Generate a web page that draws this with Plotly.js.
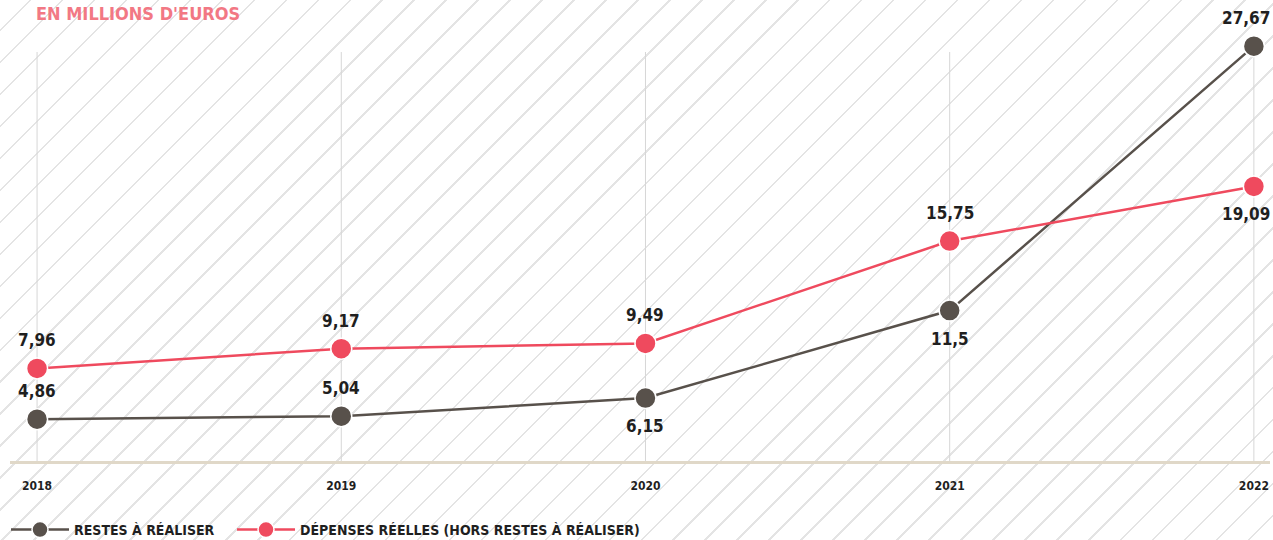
<!DOCTYPE html>
<html>
<head>
<meta charset="utf-8">
<script src="https://cdn.plot.ly/plotly-3.0.1.min.js"></script>
<style>
  html, body { margin: 0; padding: 0; }
  body {
    width: 1273px; height: 540px; overflow: hidden;
    background: repeating-linear-gradient(135deg, #ffffff 0px, #ffffff 20.8px, #e4e4e4 20.8px, #e4e4e4 22.6px);
  }
  #chart { width: 1273px; height: 540px; }
</style>
</head>
<body>
<div id="chart"></div>
<script>
const years = [2018, 2019, 2020, 2021, 2022];
const tickLabels = ["2018", "2019", "2020", "2021", "2022"];
const restesValues = [4.86, 5.04, 6.15, 11.5, 27.67];
const depensesValues = [7.96, 9.17, 9.49, 15.75, 19.09];
const seriesNames = ["RESTES À RÉALISER", "DÉPENSES RÉELLES (HORS RESTES À RÉALISER)"];
const titleText = "EN MILLIONS D'EUROS";

const restesLabelAbove = [true, true, false, false, true];
const depensesLabelAbove = [true, true, true, true, false];

const fmt = v => String(v).replace(".", ",");
const FONT = "DejaVu Sans Condensed, DejaVu Sans, sans-serif";
const GRAY = "#58514b", RED = "#ef4a5e";

const restes = {
  x: years, y: restesValues, name: seriesNames[0],
  type: "scatter", mode: "lines+markers", legend: "legend",
  line: { color: GRAY, width: 2.5 },
  marker: { color: GRAY, size: 21, line: { color: "#ffffff", width: 1.5 } },
  cliponaxis: false, hoverinfo: "skip"
};
const depenses = {
  x: years, y: depensesValues, name: seriesNames[1],
  type: "scatter", mode: "lines+markers", legend: "legend2",
  line: { color: RED, width: 2.5 },
  marker: { color: RED, size: 21, line: { color: "#ffffff", width: 1.5 } },
  cliponaxis: false, hoverinfo: "skip"
};

function labels(vals, above) {
  return vals.map((v, i) => {
    const last = i === vals.length - 1;
    return {
      x: years[i], y: v, xref: "x", yref: "y",
      text: fmt(v), showarrow: false,
      xanchor: last ? "right" : "center", xshift: last ? 18 : 0,
      yanchor: "middle", yshift: above[i] ? 28 : -28,
      font: { family: FONT, size: 17, color: "#1f1f1f", weight: 700 }
    };
  });
}

const yMin = 2.3, yMax = 29.27, gridTop = 0.9274;
const gridShapes = years.map(yr => ({
  type: "line", xref: "x", yref: "paper",
  x0: yr, x1: yr, y0: 0, y1: gridTop,
  line: { color: "#d6d6d6", width: 1 }, layer: "below"
}));

const legendBase = {
  orientation: "h", xanchor: "left", xref: "container",
  y: 10 / 540, yanchor: "middle", yref: "container",
  font: { family: FONT, size: 14, color: "#1f1f1f", weight: 700 },
  itemwidth: 58, bgcolor: "rgba(0,0,0,0)"
};

const layout = {
  width: 1273, height: 540,
  paper_bgcolor: "rgba(0,0,0,0)", plot_bgcolor: "rgba(0,0,0,0)",
  margin: { l: 10, r: 3, t: 20, b: 79 },
  font: { family: FONT, color: "#1f1f1f" },
  title: {
    text: titleText,
    font: { family: FONT, size: 18, color: "#f27884", weight: 700 },
    xref: "container", yref: "container",
    x: 36 / 1273, xanchor: "left",
    y: 1 - 14 / 540, yanchor: "middle"
  },
  xaxis: {
    range: [2017.911, 2022.053],
    tickvals: years, ticktext: tickLabels,
    showgrid: false, zeroline: false,
    showline: true, linecolor: "#e0d8c8", linewidth: 2.5,
    ticks: "", ticklabelstandoff: 12,
    tickfont: { family: FONT, size: 12, color: "#1f1f1f", weight: 700 },
    fixedrange: true
  },
  yaxis: {
    range: [yMin, yMax],
    showgrid: false, zeroline: false, showline: false, showticklabels: false,
    fixedrange: true
  },
  shapes: gridShapes,
  annotations: labels(restesValues, restesLabelAbove).concat(labels(depensesValues, depensesLabelAbove)),
  showlegend: true,
  legend: Object.assign({}, legendBase, { x: 6 / 1273 }),
  legend2: Object.assign({}, legendBase, { x: 232 / 1273 })
};

Plotly.newPlot("chart", [restes, depenses], layout, { displayModeBar: false, staticPlot: true });
</script>
</body>
</html>
